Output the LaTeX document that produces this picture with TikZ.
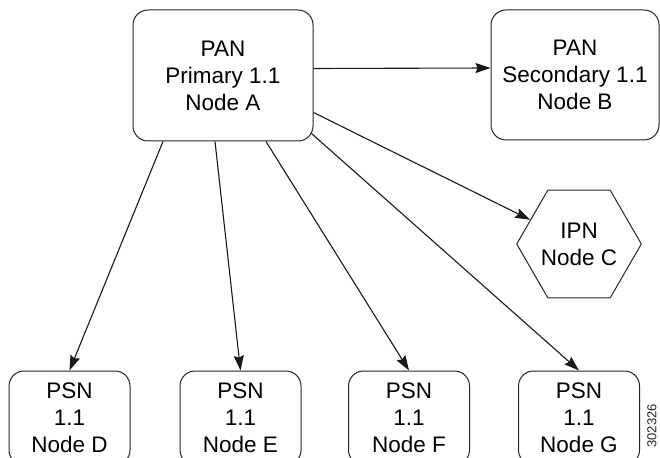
\documentclass[tikz,border=0pt]{standalone}
\usepackage{fontspec}
\setmainfont{Liberation Sans}
\usetikzlibrary{shapes.geometric,arrows.meta,calc}
\begin{document}
\begin{tikzpicture}[x=1pt,y=-1pt,
  box/.style={draw=black!85,line width=1pt,rounded corners=15pt,align=center,
    font=\fontsize{22.5}{27}\selectfont,inner sep=0pt},
  hexa/.style={draw=black!85,line width=1pt,regular polygon,regular polygon sides=6,
    minimum size=114pt,align=center,font=\fontsize{22.5}{27}\selectfont,inner sep=0pt},
  arr/.style={draw=black!90,line width=1.1pt,-{Stealth[length=15pt,width=10pt,inset=2pt]}}]
\useasboundingbox (0,0) rectangle (660,457);
\clip (0,0) rectangle (660,457);
\fill[white] (0,0) rectangle (660,457);
\node[box,minimum width=180pt,minimum height=131pt] (A) at (223,75.5) {PAN\\Primary 1.1\\Node A};
\node[box,minimum width=168pt,minimum height=130pt] (B) at (575,75) {PAN\\Secondary 1.1\\Node B};
\node[hexa] (C) at (579,244) {IPN\\Node C};
\node[box,minimum width=121pt,minimum height=94pt] (D) at (69.5,418) {PSN\\1.1\\Node D};
\node[box,minimum width=121pt,minimum height=94pt] (E) at (240.5,418) {PSN\\1.1\\Node E};
\node[box,minimum width=121pt,minimum height=94pt] (F) at (409,418) {PSN\\1.1\\Node F};
\node[box,minimum width=121pt,minimum height=94pt] (G) at (579,418) {PSN\\1.1\\Node G};
\node[rotate=90,anchor=east,inner sep=0pt,font=\fontsize{13}{13}\selectfont,text=black!85] (num) at (652,404) {302326};
\draw[arr] ([yshift=7pt]A.east) -- ([yshift=7pt]B.west);
\draw[arr] ([yshift=29pt]A.south east) -- (C);
\draw[arr] ([xshift=-60pt]A.south) -- (D.north);
\draw[arr] ([xshift=-8pt]A.south) -- (E.north);
\draw[arr] ([xshift=43pt]A.south) -- (F.north);
\draw[arr] ([xshift=-2pt,yshift=8pt]A.south east) -- (G.north);
\end{tikzpicture}
\end{document}
